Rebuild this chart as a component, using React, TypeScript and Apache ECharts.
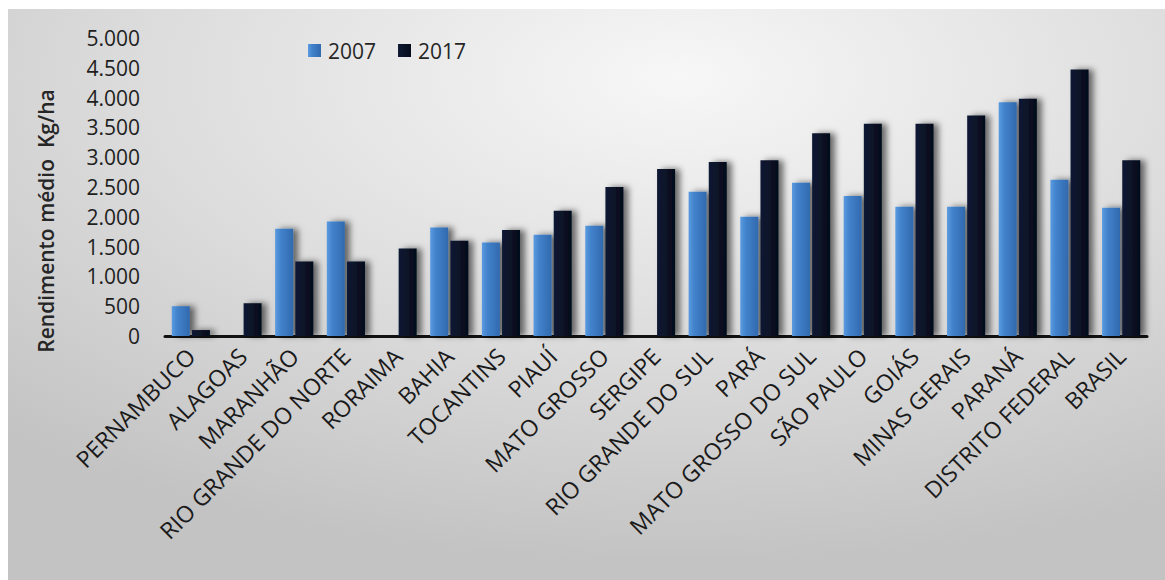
import React, { useEffect, useRef } from "react";
import * as echarts from "echarts";

const categories = [
  "PERNAMBUCO", "ALAGOAS", "MARANHÃO", "RIO GRANDE DO NORTE", "RORAIMA", "BAHIA",
  "TOCANTINS", "PIAUÍ", "MATO GROSSO", "SERGIPE", "RIO GRANDE DO SUL", "PARÁ",
  "MATO GROSSO DO SUL", "SÃO PAULO", "GOIÁS", "MINAS GERAIS", "PARANÁ",
  "DISTRITO FEDERAL", "BRASIL",
];
const values2007 = [500, 0, 1800, 1920, 0, 1820, 1570, 1700, 1850, 0, 2420, 2000, 2570, 2350, 2170, 2170, 3920, 2620, 2150];
const values2017 = [100, 550, 1250, 1250, 1470, 1600, 1780, 2100, 2500, 2800, 2920, 2950, 3400, 3560, 3560, 3700, 3980, 4470, 2950];
const seriesNames = ["2007", "2017"];
const yAxisTitle = "Rendimento médio  Kg/ha";

const FONT = "'Open Sans', sans-serif";

export default function App() {
  const ref = useRef<HTMLDivElement>(null);
  useEffect(() => {
    if (!ref.current) return;
    const chart = echarts.init(ref.current, null, { renderer: "svg" });
    const fmt = (v: number) => v.toLocaleString("pt-BR");
    const shadow = {
      shadowColor: "rgba(0,0,0,0.55)",
      shadowBlur: 6,
      shadowOffsetX: 5,
      shadowOffsetY: 0,
    };
    chart.setOption({
      animation: false,
      textStyle: { fontFamily: FONT },
      graphic: [
        {
          type: "rect",
          z: -10,
          silent: true,
          shape: { x: 8, y: 9, width: 1157, height: 571 },
          style: {
            fill: {
              type: "radial",
              x: 0.58,
              y: 0.12,
              r: 0.85,
              colorStops: [
                { offset: 0, color: "#f7f7f7" },
                { offset: 0.55, color: "#dcdcdc" },
                { offset: 1, color: "#c3c3c3" },
              ],
            },
          },
        },
        {
          type: "text",
          x: 46,
          y: 221,
          rotation: Math.PI / 2,
          style: {
            text: yAxisTitle,
            fontFamily: FONT,
            fontSize: 21,
            fontWeight: 600,
            fill: "#262626",
            align: "center",
            verticalAlign: "middle",
          },
        },
      ],
      legend: {
        left: 303,
        top: 35,
        itemWidth: 13,
        itemHeight: 13,
        itemGap: 22,
        icon: "rect",
        textStyle: { fontSize: 21, color: "#262626", fontFamily: FONT, padding: [0, 0, 0, 2] },
        data: seriesNames,
      },
      grid: { left: 165, right: 18, top: 38, bottom: 244, containLabel: false },
      xAxis: {
        type: "category",
        data: categories,
        axisLine: { show: true, lineStyle: { color: "#111", width: 3 } },
        axisTick: { show: false },
        axisLabel: {
          rotate: 45,
          interval: 0,
          margin: 16,
          fontSize: 23,
          color: "#1a1a1a",
          fontFamily: FONT,
        },
      },
      yAxis: {
        type: "value",
        min: 0,
        max: 5000,
        interval: 500,
        axisLine: { show: false },
        axisTick: { show: false },
        axisLabel: {
          margin: 25,
          fontSize: 21,
          color: "#1e1e1e",
          fontFamily: FONT,
          formatter: fmt,
        },
        splitLine: {
          lineStyle: {
            color: "#979797",
            width: 2,
            shadowColor: "rgba(255,255,255,0.9)",
            shadowOffsetY: 2,
            shadowBlur: 0,
          },
        },
      },
      series: [
        {
          name: seriesNames[0],
          type: "bar",
          barWidth: 18,
          barGap: "12%",
          data: values2007,
          itemStyle: {
            color: {
              type: "linear",
              x: 0, y: 0, x2: 1, y2: 0,
              colorStops: [
                { offset: 0, color: "#5b9be0" },
                { offset: 0.3, color: "#4283cc" },
                { offset: 1, color: "#3169ae" },
              ],
            },
            ...shadow,
          },
        },
        {
          name: seriesNames[1],
          type: "bar",
          barWidth: 18,
          data: values2017,
          itemStyle: {
            color: {
              type: "linear",
              x: 0, y: 0, x2: 1, y2: 0,
              colorStops: [
                { offset: 0, color: "#0e1a33" },
                { offset: 1, color: "#050b1a" },
              ],
            },
            ...shadow,
          },
        },
      ],
    });
    return () => chart.dispose();
  }, []);
  return (
    <div
      ref={ref}
      style={{ position: "fixed", left: 0, top: 0, width: 1165, height: 580, background: "#fff" }}
    />
  );
}
